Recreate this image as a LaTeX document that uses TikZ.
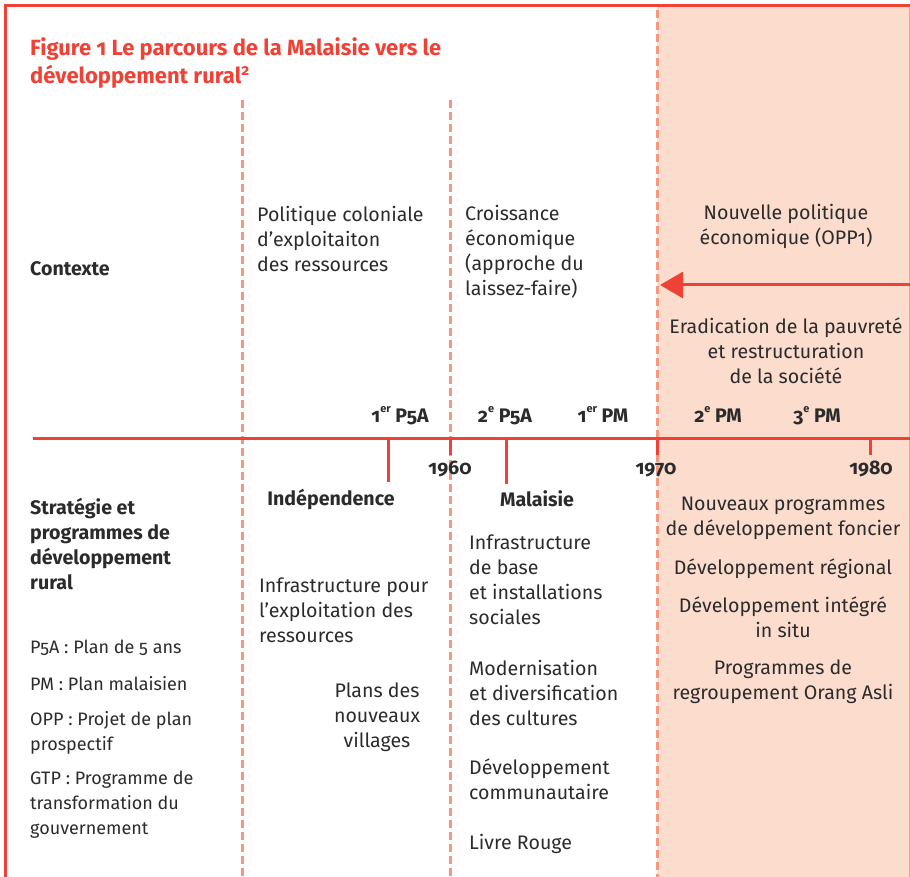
\documentclass[tikz,border=0pt]{standalone}
\usepackage{fontspec}
\setmainfont{Fira Sans}[Numbers=OldStyle]
\usetikzlibrary{arrows.meta}
\definecolor{mred}{HTML}{EF4136}
\definecolor{mpink}{HTML}{FBDCCD}
\definecolor{mdash}{HTML}{F4987F}
\definecolor{mtext}{HTML}{2B2B2B}
\newcommand\bodyfont{\fontsize{19.6}{25}\selectfont}
\newcommand\legfont{\fontsize{18}{25}\selectfont}
\newcommand\titlefont{\fontsize{22}{28}\selectfont\bfseries}
\newcommand\ordsup[1]{\raisebox{0.5em}{\fontsize{11}{11}\selectfont #1}}
\begin{document}
\begin{tikzpicture}[x=1pt,y=-1pt,
  txt/.style={font=\bodyfont,text=mtext,inner sep=0pt,align=left},
  ctxt/.style={txt,align=center},
  hd/.style={txt,font=\bodyfont\bfseries},
  leg/.style={txt,font=\legfont},
  dashline/.style={mdash,line width=3pt,dash pattern=on 8pt off 4pt},
  tickline/.style={mred,line width=3pt}]
\useasboundingbox (0,0) rectangle (910,877);
\fill[mpink](657,6)rectangle(910,877);
\draw[mred!50,line width=1pt](909,6)--(909,877);
\draw[mred,line width=3pt](5,877)--(5,6)--(910,6);
\node[anchor=north west,inner sep=0pt,text=mred,font=\titlefont,align=left] (title) at (30,37)
  {Figure 1 Le parcours de la Malaisie vers le\\d\'eveloppement rural\textsuperscript{2}};
\draw[dashline](242,100)--(242,877);
\draw[dashline](450,100)--(450,877);
\draw[dashline](657,10)--(657,877);
% contexte
\node[hd,anchor=base west] (ctx) at (30,276) {Contexte};
\node[txt,anchor=north west] (colon) at (257,206) {Politique coloniale\\d’exploitaiton\\des ressources};
\node[txt,anchor=north west] (crois) at (465,205) {Croissance\\économique\\(approche du\\laissez-faire)};
\node[ctxt,anchor=north] (nep) at (786,204) {Nouvelle politique\\économique (OPP1)};
\coordinate (arrR) at (910,285);
\coordinate (arrL) at (660,285);
\draw[mred,line width=3pt,-{Triangle[length=23pt,width=26pt]}](arrR)--(arrL);
\node[ctxt,anchor=north] (erad) at (786,318) {Eradication de la pauvreté\\et restructuration\\de la société};
% axe
\coordinate (ax0) at (33,438);
\coordinate (ax1) at (910,438);
\draw[mred,line width=3pt](ax0)--(ax1);
\draw[tickline](388,438)--(388,482);
\draw[tickline](450,438)--(450,455);
\draw[tickline](506,438)--(506,484);
\draw[tickline](657,438)--(657,455);
\draw[tickline](870,438)--(870,455);
\node[hd,anchor=base] (p5a1) at (400,422) {1\ordsup{er} P5A};
\node[hd,anchor=base] (p5a2) at (505,422) {2\ordsup{e} P5A};
\node[hd,anchor=base] (pm1) at (603,422) {1\ordsup{er} PM};
\node[hd,anchor=base] (pm2) at (718,422) {2\ordsup{e} PM};
\node[hd,anchor=base] (pm3) at (817,422) {3\ordsup{e} PM};
\node[hd,anchor=base] (y60) at (450,474) {1960};
\node[hd,anchor=base] (y70) at (656,474) {1970};
\node[hd,anchor=base] (y80) at (871,474) {1980};
\node[hd,anchor=base] (indep) at (331,505) {Indépendence};
\node[hd,anchor=base] (malay) at (537,506) {Malaisie};
% strategie
\node[hd,anchor=north west] (strat) at (30,498) {Stratégie et\\programmes de\\développement\\rural};
\node[leg,anchor=north west] (l1) at (30,640) {P5A : Plan de 5 ans};
\node[leg,anchor=north west] (l2) at (30,676) {PM : Plan malaisien};
\node[leg,anchor=north west] (l3) at (30,711) {OPP : Projet de plan\\prospectif};
\node[leg,anchor=north west] (l4) at (30,771) {GTP : Programme de\\transformation du\\gouvernement};
\node[txt,anchor=north west] (infra1) at (259,578) {Infrastructure pour\\l’exploitation des\\ressources};
\node[ctxt,anchor=north] (villages) at (377,683) {Plans des\\nouveaux\\villages};
\node[txt,anchor=north west] (infra2) at (469,535) {Infrastructure\\de base\\et installations\\sociales};
\node[txt,anchor=north west] (modern) at (469,660) {Modernisation\\et diversification\\des cultures};
\node[txt,anchor=north west] (commu) at (469,759) {Développement\\communautaire};
\node[txt,anchor=north west] (rouge) at (469,834) {Livre Rouge};
\node[ctxt,anchor=north] (foncier) at (783,497) {Nouveaux programmes\\de développement foncier};
\node[ctxt,anchor=north] (region) at (783,559) {Développement régional};
\node[ctxt,anchor=north] (integ) at (783,597) {Développement intégré\\in situ};
\node[ctxt,anchor=north] (asli) at (783,660) {Programmes de\\regroupement Orang Asli};
\end{tikzpicture}
\end{document}
